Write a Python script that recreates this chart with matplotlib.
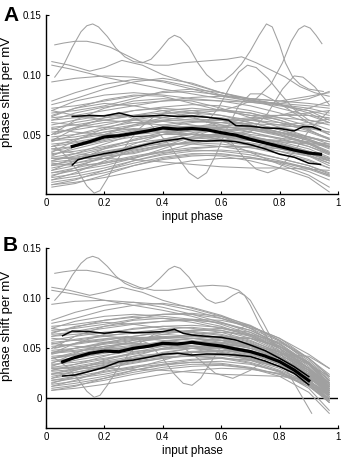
import numpy as np
import matplotlib
matplotlib.use("Agg")
import matplotlib.pyplot as plt

plt.rcParams['font.family'] = ['Liberation Sans', 'DejaVu Sans']

# --- shared sample positions for the bulk traces ---
GRID = [0.02, 0.1, 0.2, 0.3, 0.4, 0.5, 0.6, 0.7, 0.8, 0.9, 0.97]

# --- panel A: individual cells (gray) ---
CELLS_A = [
    [.108, .104, .098, .093, .088, .084, .080, .077, .074, .070, .066],
    [.094, .097, .099, .098, .094, .088, .082, .078, .076, .074, .072],
    [.078, .085, .092, .096, .095, .090, .083, .078, .076, .080, .086],
    [.075, .080, .088, .094, .097, .093, .085, .079, .075, .072, .068],
    [.072, .074, .078, .082, .085, .086, .083, .080, .078, .082, .085],
    [.070, .078, .083, .085, .083, .080, .078, .077, .075, .070, .062],
    [.068, .070, .074, .080, .086, .088, .085, .079, .072, .066, .060],
    [.066, .072, .079, .083, .082, .076, .070, .066, .066, .072, .078],
    [.064, .066, .070, .074, .078, .081, .082, .080, .075, .068, .060],
    [.062, .068, .073, .076, .078, .079, .078, .074, .068, .060, .054],
    [.058, .062, .066, .070, .073, .075, .074, .070, .064, .057, .050],
    [.056, .058, .062, .066, .070, .072, .070, .066, .060, .053, .047],
    [.054, .060, .064, .066, .068, .068, .066, .062, .058, .055, .052],
    [.052, .054, .058, .063, .067, .070, .071, .068, .062, .054, .046],
    [.050, .056, .060, .062, .062, .061, .060, .059, .058, .060, .063],
    [.048, .050, .054, .058, .062, .065, .064, .060, .054, .046, .040],
    [.046, .048, .052, .057, .061, .063, .062, .058, .052, .045, .038],
    [.044, .050, .056, .060, .061, .058, .054, .050, .047, .044, .042],
    [.042, .044, .048, .053, .058, .061, .060, .056, .050, .043, .036],
    [.040, .043, .047, .051, .055, .057, .057, .054, .049, .042, .035],
    [.038, .040, .045, .050, .054, .056, .055, .052, .047, .040, .033],
    [.036, .040, .046, .052, .056, .057, .054, .049, .043, .036, .030],
    [.034, .036, .040, .045, .050, .054, .056, .055, .051, .045, .039],
    [.033, .038, .044, .048, .050, .050, .049, .047, .045, .043, .041],
    [.031, .034, .039, .045, .050, .053, .052, .048, .042, .035, .028],
    [.030, .031, .035, .040, .046, .051, .054, .054, .050, .043, .035],
    [.028, .032, .038, .043, .046, .047, .046, .043, .039, .034, .029],
    [.027, .029, .033, .038, .043, .047, .049, .048, .044, .038, .031],
    [.025, .028, .034, .040, .045, .048, .048, .045, .040, .033, .026],
    [.024, .026, .030, .035, .040, .044, .046, .045, .042, .036, .030],
    [.022, .026, .032, .037, .041, .043, .042, .039, .034, .028, .022],
    [.020, .024, .030, .036, .041, .044, .044, .041, .036, .029, .022],
    [.018, .022, .027, .032, .036, .039, .040, .039, .036, .032, .028],
    [.016, .020, .026, .031, .035, .037, .036, .033, .028, .022, .016],
    [.014, .017, .022, .028, .033, .036, .037, .035, .030, .024, .017],
    [.012, .015, .020, .026, .031, .034, .034, .031, .026, .019, .012],
    [.010, .013, .018, .024, .029, .032, .033, .031, .027, .021, .015],
    [.008, .010, .014, .019, .024, .028, .030, .030, .027, .022, .016],
    [.006, .009, .016, .024, .030, .033, .032, .028, .022, .014, .002],
    [.040, .046, .052, .055, .054, .050, .046, .042, .038, .032, .026],
    [.060, .058, .056, .054, .052, .050, .048, .046, .044, .042, .040],
    [.028, .034, .042, .050, .056, .060, .062, .062, .060, .056, .052],
    [.020, .028, .038, .046, .052, .055, .056, .055, .052, .048, .044],
    [.045, .046, .050, .054, .055, .052, .045, .035, .025, .016, .006],
    [.026, .024, .026, .030, .036, .042, .048, .053, .056, .058, .060],
    [.030, .030, .030, .029, .027, .025, .023, .022, .022, .021, .020],
    [.070, .066, .062, .060, .058, .056, .052, .046, .040, .034, .028],
    [.050, .062, .072, .078, .080, .078, .072, .064, .056, .048, .042],
    [.035, .045, .055, .062, .066, .066, .063, .058, .052, .046, .040],
    [.015, .022, .032, .042, .050, .056, .058, .056, .050, .042, .034],
    [.012, .018, .028, .038, .046, .050, .050, .046, .040, .032, .024],
    [.062, .064, .066, .066, .064, .062, .062, .064, .066, .066, .064],
    [.055, .052, .050, .050, .052, .056, .060, .063, .064, .062, .058],
    [.038, .034, .032, .034, .040, .048, .056, .062, .066, .068, .070],
    [.024, .030, .036, .040, .042, .042, .040, .036, .030, .024, .018],
    [.008, .012, .020, .028, .034, .038, .040, .040, .038, .034, .030],
    [.045, .055, .064, .070, .072, .070, .066, .060, .054, .048, .044],
    [.065, .072, .076, .074, .070, .064, .058, .052, .046, .040, .034],
    [.032, .040, .050, .058, .064, .068, .070, .068, .062, .054, .046],
    [.018, .020, .024, .030, .038, .046, .052, .056, .056, .052, .046],
]

# wiggly outliers in A, each with its own phases
ODD_A = [
    ([0.03, 0.06, 0.09, 0.12, 0.14, 0.16, 0.18, 0.21, 0.24, 0.27, 0.30, 0.33,
      0.36, 0.39, 0.42, 0.44, 0.46, 0.49, 0.52, 0.55, 0.58, 0.61, 0.64, 0.67,
      0.70, 0.73, 0.755, 0.775, 0.80, 0.82, 0.845, 0.87, 0.9, 0.95],
     [.098, .108, .123, .136, .141, .1425, .140, .132, .122, .115, .111, .110,
      .113, .121, .130, .133, .131, .123, .110, .100, .094, .095, .101, .109,
      .120, .133, .1425, .140, .125, .110, .098, .092, .088, .086]),
    ([0.03, 0.06, 0.1, 0.14, 0.18, 0.22, 0.27, 0.32, 0.37, 0.42, 0.47, 0.52,
      0.57, 0.62, 0.67, 0.72, 0.77, 0.82, 0.87, 0.92, 0.97],
     [.125, .1265, .128, .128, .126, .123, .117, .111, .108, .108, .110, .111,
      .112, .113, .115, .110, .104, .098, .090, .085, .082]),
    ([0.02, 0.08, 0.15, 0.2, 0.26, 0.33, 0.4, 0.5, 0.6, 0.7, 0.8, 0.9, 0.97],
     [.111, .108, .103, .106, .112, .108, .100, .092, .085, .080, .078, .076, .074]),
    ([0.55, 0.59, 0.63, 0.66, 0.69, 0.72, 0.76, 0.8, 0.85, 0.9, 0.95],
     [.060, .072, .090, .102, .108, .106, .097, .085, .071, .062, .060]),
    ([0.6, 0.66, 0.72, 0.77, 0.81, 0.84, 0.865, 0.885, 0.905, 0.925, 0.945],
     [.070, .074, .080, .092, .110, .128, .138, .141, .139, .133, .126]),
    ([0.03, 0.07, 0.11, 0.14, 0.165, 0.185, 0.21, 0.24, 0.28, 0.32, 0.37, 0.43,
      0.5, 0.6, 0.7, 0.8, 0.9, 0.95],
     [.040, .032, .019, .007, .001, .003, .013, .027, .043, .055, .065, .070,
      .068, .062, .057, .052, .047, .045]),
    ([0.03, 0.15, 0.28, 0.36, 0.42, 0.46, 0.49, 0.52, 0.55, 0.58, 0.62, 0.66,
      0.70, 0.74, 0.8, 0.9, 0.97],
     [.050, .060, .065, .058, .042, .028, .018, .013, .018, .032, .055, .074,
      .084, .084, .076, .060, .050]),
    ([0.6, 0.7, 0.76, 0.81, 0.85, 0.88, 0.92, 0.97],
     [.045, .052, .068, .088, .099, .098, .090, .075]),
    ([0.5, 0.58, 0.63, 0.68, 0.72, 0.76, 0.8, 0.85, 0.9, 0.97],
     [.065, .058, .045, .030, .021, .018, .022, .036, .053, .070]),
]

# population mean and spread in A
MEAN_A_X = [0.09, 0.12, 0.15, 0.2, 0.25, 0.3, 0.35, 0.4, 0.45, 0.5, 0.55, 0.6,
            0.65, 0.7, 0.75, 0.8, 0.85, 0.9, 0.94]
MEAN_A_Y = [.040, .042, .044, .048, .049, .051, .053, .0555, .0545, .055, .054,
            .0515, .0495, .046, .043, .040, .037, .0345, .0335]
UP_A_X = [0.09, 0.15, 0.2, 0.25, 0.3, 0.35, 0.4, 0.45, 0.5, 0.55, 0.6, 0.625,
          0.65, 0.7, 0.75, 0.8, 0.85, 0.88, 0.91, 0.94]
UP_A_Y = [.065, .066, .0655, .068, .065, .0655, .066, .065, .0655, .0645, .063,
          .062, .0575, .057, .0555, .055, .053, .0565, .0565, .054]
LO_A_X = [0.09, 0.11, 0.15, 0.2, 0.25, 0.3, 0.35, 0.4, 0.45, 0.47, 0.5, 0.55,
          0.6, 0.65, 0.7, 0.75, 0.8, 0.85, 0.9, 0.94]
LO_A_Y = [.0245, .029, .0315, .034, .036, .039, .042, .0445, .046, .047, .045,
          .0445, .045, .044, .0415, .038, .0335, .031, .026, .025]

# --- panel B: individual cells (gray) ---
CELLS_B = [
    [.108, .104, .098, .093, .088, .082, .074, .064, .050, .030, .012],
    [.094, .097, .098, .096, .091, .084, .076, .066, .052, .034, .016],
    [.078, .086, .093, .096, .094, .088, .080, .070, .057, .038, .020],
    [.075, .080, .088, .093, .095, .091, .083, .072, .058, .040, .024],
    [.072, .074, .078, .082, .084, .084, .080, .072, .060, .044, .030],
    [.070, .077, .082, .084, .082, .079, .075, .068, .055, .035, .015],
    [.068, .070, .074, .079, .084, .085, .082, .073, .058, .036, .018],
    [.066, .071, .078, .081, .080, .076, .070, .063, .050, .030, .010],
    [.064, .066, .070, .074, .077, .079, .078, .072, .060, .040, .022],
    [.062, .067, .072, .075, .077, .078, .076, .068, .054, .034, .014],
    [.058, .062, .066, .069, .072, .073, .071, .064, .052, .032, .012],
    [.056, .058, .062, .066, .069, .071, .068, .060, .047, .028, .008],
    [.054, .059, .063, .065, .067, .067, .064, .057, .046, .030, .014],
    [.052, .054, .058, .062, .066, .068, .068, .062, .050, .030, .010],
    [.050, .055, .059, .061, .061, .060, .058, .054, .046, .034, .022],
    [.048, .050, .054, .058, .061, .063, .061, .055, .044, .026, .006],
    [.046, .048, .052, .056, .060, .062, .060, .053, .042, .024, .004],
    [.044, .050, .055, .059, .060, .058, .054, .048, .040, .028, .016],
    [.042, .044, .048, .052, .057, .060, .058, .052, .040, .022, .002],
    [.040, .043, .047, .051, .054, .056, .055, .050, .040, .024, .006],
    [.038, .040, .045, .049, .053, .055, .053, .047, .036, .018, -.002],
    [.036, .040, .046, .051, .055, .056, .052, .045, .034, .018, .002],
    [.034, .036, .040, .045, .050, .053, .055, .052, .042, .024, .008],
    [.033, .038, .043, .047, .049, .050, .048, .044, .036, .024, .012],
    [.031, .034, .039, .044, .049, .052, .051, .045, .034, .016, -.004],
    [.030, .031, .035, .040, .045, .050, .053, .052, .044, .028, .010],
    [.028, .032, .037, .042, .045, .046, .045, .040, .032, .020, .008],
    [.027, .029, .033, .038, .043, .046, .048, .046, .038, .022, .004],
    [.025, .028, .034, .040, .044, .047, .047, .042, .032, .016, -.002],
    [.024, .026, .030, .035, .040, .043, .045, .043, .036, .022, .006],
    [.022, .026, .032, .037, .041, .042, .041, .036, .027, .010, -.012],
    [.020, .024, .030, .036, .040, .043, .043, .039, .030, .014, -.004],
    [.018, .022, .027, .032, .036, .039, .040, .038, .032, .020, .006],
    [.016, .020, .026, .031, .034, .036, .035, .031, .024, .012, -.002],
    [.014, .017, .022, .028, .033, .036, .037, .034, .027, .014, .000],
    [.012, .015, .020, .026, .031, .034, .034, .030, .022, .006, -.015],
    [.010, .013, .018, .024, .029, .032, .033, .030, .024, .014, .004],
    [.008, .010, .014, .019, .024, .028, .030, .029, .025, .016, .006],
    [.040, .046, .052, .055, .054, .050, .046, .040, .032, .020, .008],
    [.060, .058, .056, .054, .053, .052, .050, .046, .038, .024, .010],
    [.028, .034, .042, .050, .056, .060, .062, .060, .052, .036, .018],
    [.020, .028, .038, .046, .052, .055, .056, .054, .046, .030, .012],
    [.045, .047, .050, .053, .054, .052, .046, .038, .028, .016, .004],
    [.030, .030, .030, .029, .028, .026, .024, .023, .022, .018, .012],
    [.046, .050, .056, .060, .062, .060, .056, .050, .044, .042, .030],
    [.070, .066, .062, .060, .058, .055, .050, .042, .032, .018, .004],
    [.050, .062, .072, .078, .080, .078, .072, .062, .048, .030, .012],
    [.035, .045, .055, .062, .066, .066, .063, .056, .044, .026, .008],
    [.015, .022, .032, .042, .050, .056, .058, .054, .042, .024, .004],
    [.012, .018, .028, .038, .046, .050, .050, .045, .034, .018, .000],
    [.062, .064, .066, .066, .064, .062, .062, .060, .052, .034, .014],
    [.055, .052, .050, .050, .052, .056, .060, .060, .052, .036, .018],
    [.024, .030, .036, .040, .042, .042, .040, .035, .026, .012, -.004],
    [.008, .012, .020, .028, .034, .038, .040, .038, .032, .020, .008],
    [.045, .055, .064, .070, .072, .070, .066, .058, .046, .028, .010],
    [.065, .072, .076, .074, .070, .064, .058, .050, .040, .026, .012],
    [.032, .040, .050, .058, .064, .068, .070, .066, .054, .034, .012],
    [.018, .020, .024, .030, .038, .046, .052, .054, .046, .028, .008],
    [.040, .044, .050, .056, .060, .064, .066, .064, .056, .040, .022],
]

ODD_B = [
    ([0.03, 0.06, 0.09, 0.12, 0.14, 0.16, 0.18, 0.21, 0.24, 0.27, 0.30, 0.33,
      0.36, 0.39, 0.42, 0.44, 0.46, 0.49, 0.52, 0.55, 0.58, 0.61, 0.64, 0.66,
      0.68, 0.70, 0.73, 0.77, 0.81, 0.85, 0.88, 0.91],
     [.098, .108, .123, .135, .140, .142, .140, .132, .122, .115, .111, .109,
      .112, .120, .129, .132, .130, .121, .108, .099, .095, .097, .103, .106,
      .103, .093, .075, .055, .035, .015, .000, -.015]),
    ([0.03, 0.06, 0.1, 0.14, 0.18, 0.22, 0.27, 0.32, 0.37, 0.42, 0.47, 0.52,
      0.57, 0.62, 0.66, 0.70, 0.745, 0.79, 0.84, 0.89, 0.93, 0.97],
     [.125, .1265, .128, .128, .126, .123, .117, .111, .108, .108, .110, .112,
      .113, .112, .108, .098, .075, .050, .031, .016, .006, .000]),
    ([0.02, 0.08, 0.15, 0.2, 0.26, 0.33, 0.4, 0.5, 0.6, 0.7, 0.8, 0.9, 0.97],
     [.111, .108, .103, .106, .111, .106, .098, .090, .082, .070, .052, .030, .012]),
    ([0.03, 0.07, 0.11, 0.14, 0.165, 0.185, 0.21, 0.24, 0.28, 0.32, 0.37, 0.43,
      0.5, 0.6, 0.7, 0.8, 0.88, 0.95],
     [.040, .032, .019, .007, .001, .003, .013, .027, .043, .055, .064, .068,
      .066, .060, .052, .038, .020, .004]),
    ([0.03, 0.15, 0.28, 0.35, 0.40, 0.44, 0.47, 0.5, 0.53, 0.56, 0.6, 0.64,
      0.68, 0.73, 0.8, 0.87, 0.93, 0.97],
     [.050, .058, .062, .055, .040, .024, .015, .013, .020, .034, .052, .066,
      .072, .068, .050, .028, .010, .002]),
    ([0.45, 0.52, 0.58, 0.64, 0.7, 0.76, 0.82, 0.87, 0.92, 0.97],
     [.055, .040, .025, .020, .028, .040, .045, .040, .030, .018]),
]

MEAN_B_X = [0.057, 0.09, 0.15, 0.2, 0.25, 0.3, 0.35, 0.4, 0.45, 0.5, 0.55, 0.6,
            0.65, 0.7, 0.75, 0.8, 0.85, 0.9]
MEAN_B_Y = [.0365, .040, .045, .0473, .0466, .050, .052, .055, .0543, .056, .054,
            .0523, .0493, .0467, .0423, .0367, .0283, .0177]
UP_B_X = [0.057, 0.09, 0.15, 0.2, 0.25, 0.3, 0.35, 0.4, 0.44, 0.47, 0.5, 0.55,
          0.6, 0.65, 0.7, 0.75, 0.8, 0.85, 0.9]
UP_B_Y = [.0626, .0673, .0666, .065, .0666, .0655, .066, .0667, .069, .065, .0633,
          .062, .061, .0583, .0533, .0477, .040, .0317, .0217]
LO_B_X = [0.057, 0.1, 0.15, 0.2, 0.25, 0.3, 0.35, 0.4, 0.45, 0.5, 0.55, 0.6,
          0.65, 0.7, 0.75, 0.8, 0.85, 0.9]
LO_B_Y = [.0223, .0233, .027, .031, .0366, .0383, .041, .044, .045, .0433, .0443,
          .044, .0433, .0417, .0373, .0317, .025, .0135]

XTICKS = [0, 0.2, 0.4, 0.6, 0.8, 1]
XTICKLABELS = ['0', '0.2', '0.4', '0.6', '0.8', '1']

GRAY = '#a0a0a0'


def draw_panel(ax, cells, odd, mean, upper, lower, ylim, yticks, yticklabels):
    for ys in cells:
        ax.plot(GRID, ys, color=GRAY, lw=0.75, solid_joinstyle='round')
    for xs, ys in odd:
        ax.plot(xs, ys, color=GRAY, lw=0.75, solid_joinstyle='round')
    ax.plot(upper[0], upper[1], color='black', lw=1.1)
    ax.plot(lower[0], lower[1], color='black', lw=1.1)
    ax.plot(mean[0], mean[1], color='black', lw=2.3)

    ax.set_xlim(0, 1)
    ax.set_ylim(*ylim)
    ax.set_xticks(XTICKS)
    ax.set_xticklabels(XTICKLABELS)
    ax.set_yticks(yticks)
    ax.set_yticklabels(yticklabels)
    ax.tick_params(direction='in', length=2.5, width=0.8, labelsize=7, pad=3)
    for s in ('top', 'right'):
        ax.spines[s].set_visible(False)
    for s in ('left', 'bottom'):
        ax.spines[s].set_linewidth(1.0)
    ax.set_xlabel('input phase', fontsize=8.5, labelpad=2)
    ax.set_ylabel('phase shift per mV', fontsize=9.5)
    ax.yaxis.set_label_coords(-0.113, 0.57)


fig = plt.figure(figsize=(3.46, 4.65), dpi=100)
ax_a = fig.add_axes([0.1329, 0.5822, 0.8439, 0.3856])
ax_b = fig.add_axes([0.1329, 0.0789, 0.8439, 0.3871])

draw_panel(ax_a, CELLS_A, ODD_A, (MEAN_A_X, MEAN_A_Y), (UP_A_X, UP_A_Y),
           (LO_A_X, LO_A_Y), (0, 0.15), [0.05, 0.10, 0.15],
           ['0.05', '0.10', '0.15'])

ax_b.axhline(0, color='black', lw=1.0)
draw_panel(ax_b, CELLS_B, ODD_B, (MEAN_B_X, MEAN_B_Y), (UP_B_X, UP_B_Y),
           (LO_B_X, LO_B_Y), (-0.03, 0.15), [0, 0.05, 0.10, 0.15],
           ['0', '0.05', '0.10', '0.15'])

# panel letters
fig.text(3 / 346, 1 - 6 / 465, 'A', fontsize=15, fontweight='bold', ha='left', va='top')
fig.text(3 / 346, 1 - 236 / 465, 'B', fontsize=15, fontweight='bold', ha='left', va='top')

fig.savefig('out.png', dpi=100)
